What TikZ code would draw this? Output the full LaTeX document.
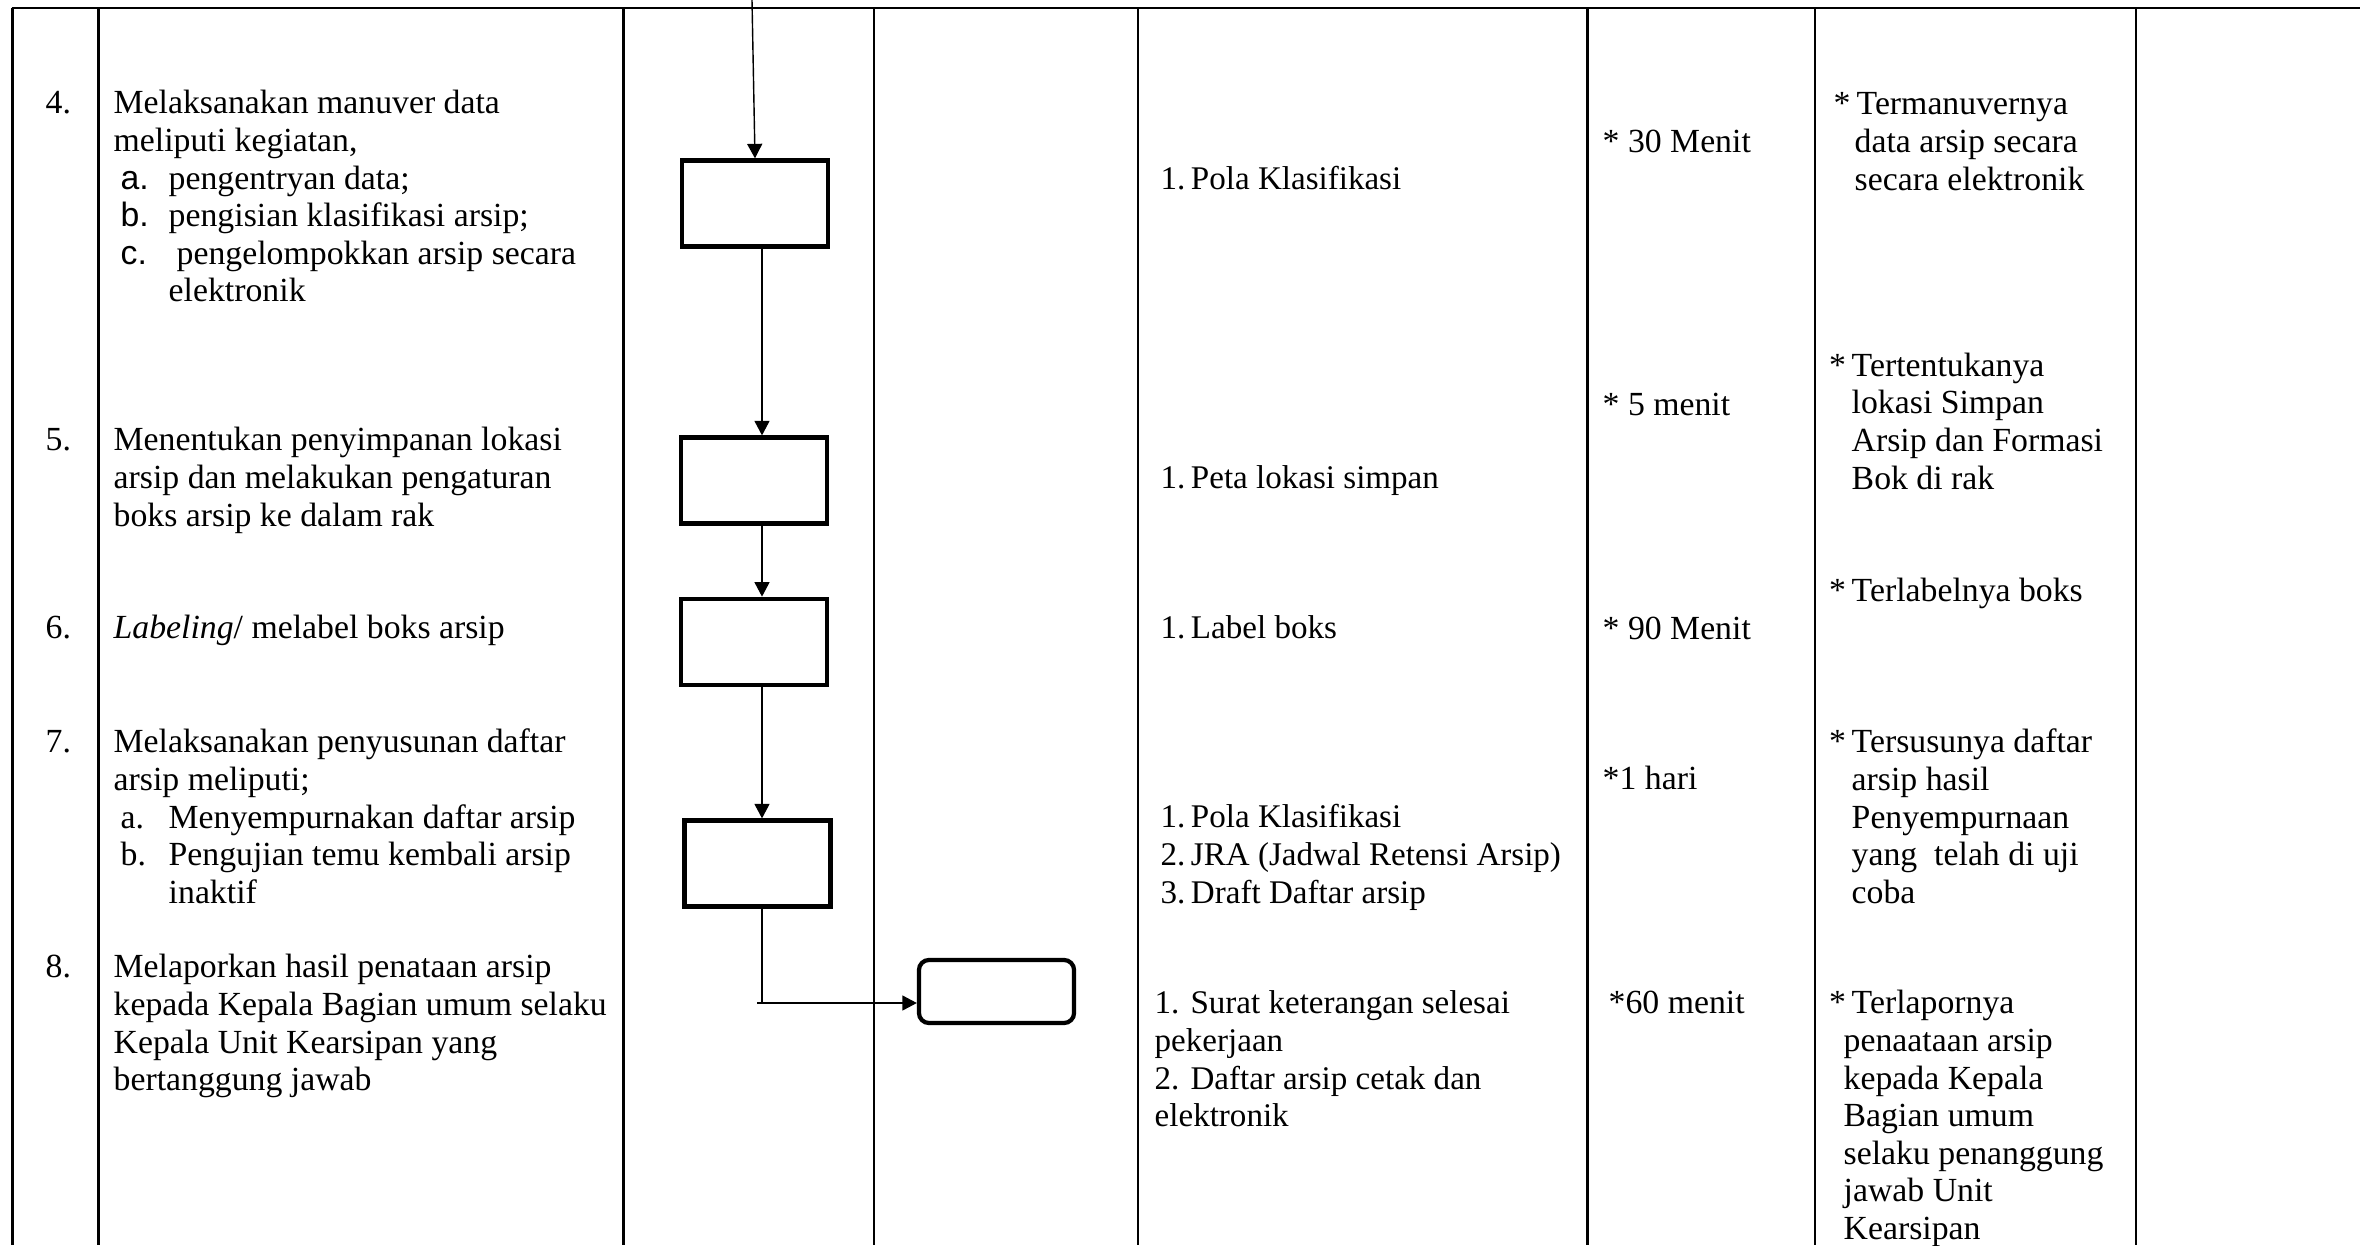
\documentclass[tikz,border=0pt]{standalone}
\usepackage{fontspec}
\setmainfont{Liberation Serif}
\newfontfamily\sansf{Liberation Sans}
\usetikzlibrary{arrows.meta}
\newcommand\astbox[1]{\makebox[#1][l]{\hspace*{-0.02cm}*}}
\begin{document}
\begin{tikzpicture}[x=0.01cm,y=-0.01cm,
  grid/.style={line width=0.65pt},
  conn/.style={line width=0.4pt},
  arr/.style={conn,-{Triangle[length=0.145cm,width=0.15cm]}},
  procbox/.style={draw,line width=1.2pt,inner sep=0pt,minimum width=1.46cm,minimum height=0.86cm},
  endbox/.style={draw,line width=1.2pt,rounded corners=0.1cm,inner sep=0pt,minimum width=1.55cm,minimum height=0.63cm},
  txt/.style={anchor=north west,inner sep=0pt,align=left,font=\fontsize{9.6}{10.7}\selectfont},
  txtb/.style={txt,font=\fontsize{9.4}{10.7}\selectfont},
]
\useasboundingbox (0,0) rectangle (2360,1245);
% table grid
\draw[grid] (11.5,8) -- (2360,8);
\foreach \x in {12.5,98.5,623.5,874,1138,1587.5,1815,2136} \draw[grid] (\x,8) -- (\x,1245);

% flow boxes
\node[procbox] (b1) at (755,203.5) {};
\node[procbox] (b2) at (753.75,480.5) {};
\node[procbox] (b3) at (753.75,641.75) {};
\node[procbox] (b4) at (757.5,863.5) {};
\node[endbox] (b5) at (996.5,991.5) {};

\coordinate (in) at (752,0);
\coordinate (ax) at (762,0);
\coordinate (k) at (757,1003);
\draw[arr] (in) -- (b1.north);
\draw[arr] (b1.south -| ax) -- (b2.north -| ax);
\draw[arr] (b2.south -| ax) -- (b3.north -| ax);
\draw[arr] (b3.south -| ax) -- (b4.north -| ax);
\draw[conn] (b4.south -| ax) -- (ax |- k);
\draw[arr] (k) -- (k -| b5.west);

% numbers
\node[txt] (n4) at (45,86.7) {\strut 4.};
\node[txt] (n5) at (45,423.7) {\strut 5.};
\node[txt] (n6) at (45,611.7) {\strut 6.};
\node[txt] (n7) at (45,725.7) {\strut 7.};
\node[txt] (n8) at (45,950.7) {\strut 8.};

% activities
\node[txt] (t4) at (113,86.7) {\strut Melaksanakan manuver data\\
meliputi kegiatan,\\
\hspace*{0.07cm}\makebox[0.48cm][l]{\sansf a.}pengentryan data;\\
\hspace*{0.07cm}\makebox[0.48cm][l]{\sansf b.}pengisian klasifikasi arsip;\\
\hspace*{0.07cm}\makebox[0.56cm][l]{\sansf c.}pengelompokkan arsip secara\\
\hspace*{0.55cm}elektronik};
\node[txt] (t5) at (113,423.7) {\strut Menentukan penyimpanan lokasi\\
arsip dan melakukan pengaturan\\
boks arsip ke dalam rak};
\node[txt] (t6) at (113,611.7) {\strut\textit{Labeling}/ melabel boks arsip};
\node[txt] (t7) at (113,725.7) {\strut Melaksanakan penyusunan daftar\\
arsip meliputi;\\
\hspace*{0.07cm}\makebox[0.48cm][l]{a.}Menyempurnakan daftar arsip\\
\hspace*{0.07cm}\makebox[0.48cm][l]{b.}Pengujian temu kembali arsip\\
\hspace*{0.55cm}inaktif};
\node[txt] (t8) at (113,950.7) {\strut Melaporkan hasil penataan arsip\\
kepada Kepala Bagian umum selaku\\
Kepala Unit Kearsipan yang\\
bertanggung jawab};

% requirements
\node[txtb] (c4) at (1160,162.7) {\strut 1.\,Pola Klasifikasi};
\node[txtb] (c5) at (1160,461.7) {\strut 1.\,Peta lokasi simpan};
\node[txtb] (c6) at (1160,611.7) {\strut 1.\,Label boks};
\node[txtb] (c7) at (1160,800.7) {\strut 1.\,Pola Klasifikasi\\
2.\,JRA (Jadwal Retensi Arsip)\\
3.\,Draft Daftar arsip};
\node[txtb] (c8) at (1154,986.7) {\strut 1. Surat keterangan selesai\\
pekerjaan\\
2. Daftar arsip cetak dan\\
elektronik};

% time
\node[txt] (d4) at (1602,125.2) {\strut * 30 Menit};
\node[txt] (d5) at (1602,388.7) {\strut * 5 menit};
\node[txt] (d6) at (1602,612.7) {\strut * 90 Menit};
\node[txt] (d7) at (1602,762.7) {\strut *1 hari};
\node[txt] (d8) at (1608,986.7) {\strut *60 menit};

% output
\node[txt] (e4) at (1835,87.7) {\strut\astbox{0.21cm}Termanuvernya\\
\hspace*{0.19cm}data arsip secara\\
\hspace*{0.19cm}secara elektronik};
\node[txt] (e5) at (1830.5,349.2) {\strut\astbox{0.205cm}Tertentukanya\\
\hspace*{0.205cm}lokasi Simpan\\
\hspace*{0.205cm}Arsip dan Formasi\\
\hspace*{0.205cm}Bok di rak};
\node[txt] (e6) at (1830.5,574.7) {\strut\astbox{0.205cm}Terlabelnya boks};
\node[txt] (e7) at (1830.5,725.7) {\strut\astbox{0.205cm}Tersusunya daftar\\
\hspace*{0.205cm}arsip hasil\\
\hspace*{0.205cm}Penyempurnaan\\
\hspace*{0.205cm}yang\ \ telah di uji\\
\hspace*{0.205cm}coba};
\node[txt] (e8) at (1830.5,986.7) {\strut\astbox{0.205cm}Terlapornya\\
\hspace*{0.125cm}penaataan arsip\\
\hspace*{0.125cm}kepada Kepala\\
\hspace*{0.125cm}Bagian umum\\
\hspace*{0.125cm}selaku penanggung\\
\hspace*{0.125cm}jawab Unit\\
\hspace*{0.125cm}Kearsipan};
\end{tikzpicture}
\end{document}
